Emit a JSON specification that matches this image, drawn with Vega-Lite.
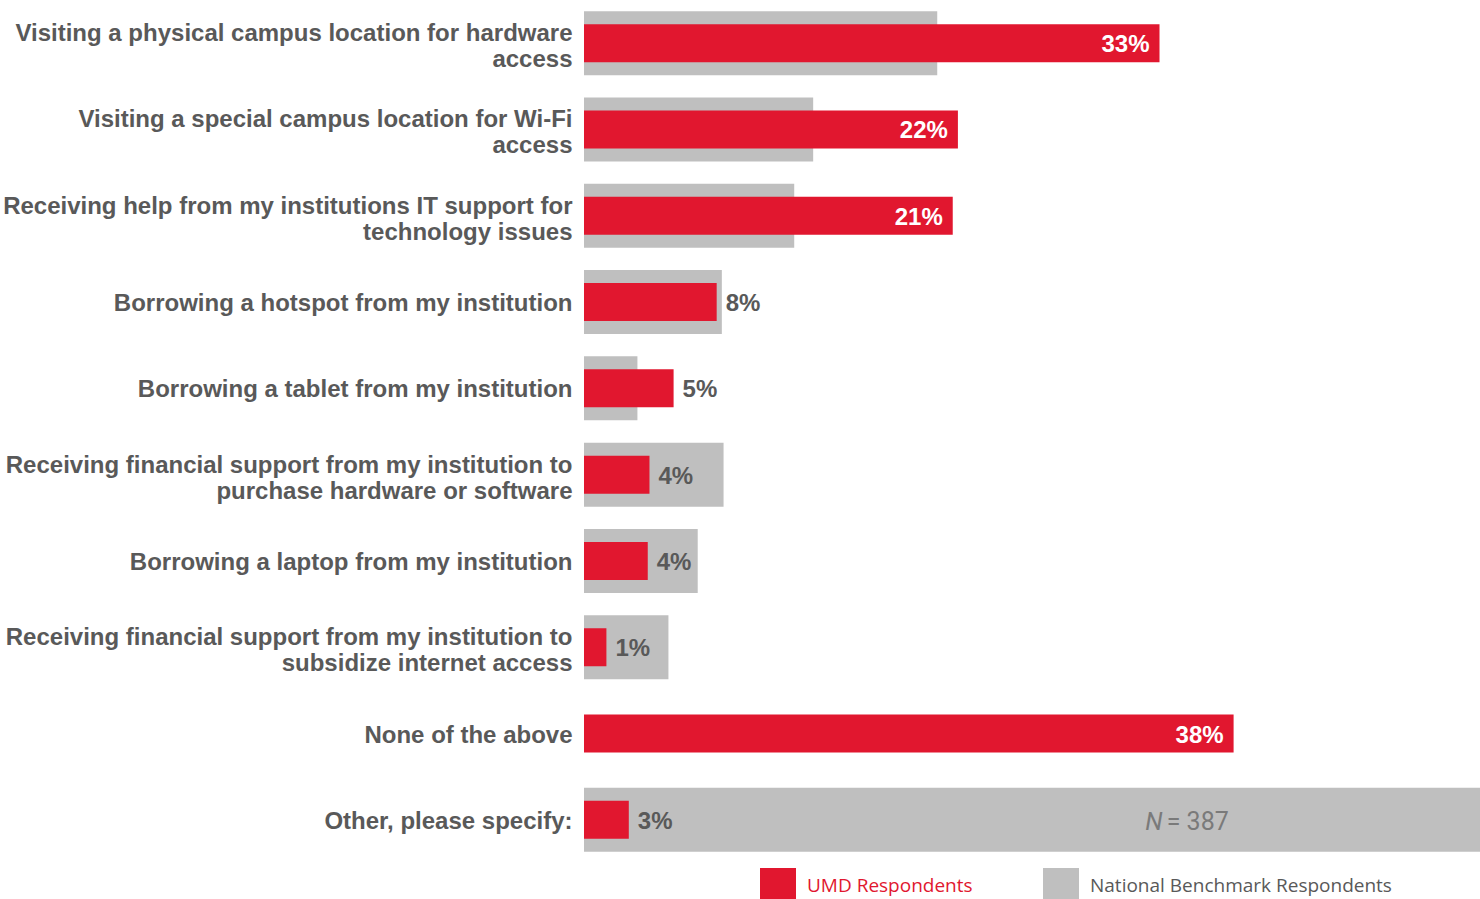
{
  "$schema": "https://vega.github.io/schema/vega-lite/v6.json",
  "width": 896,
  "height": 863,
  "autosize": {"type": "none"},
  "padding": {"left": 584, "top": 0, "right": 0, "bottom": 36},
  "background": "white",
  "config": {"view": {"stroke": null}, "font": "Liberation Sans"},
  "data": {
    "values": [
      {"item": "Visiting a physical campus location for hardware|access", "umd": 0.334, "nat": 0.205},
      {"item": "Visiting a special campus location for Wi-Fi|access", "umd": 0.217, "nat": 0.133},
      {"item": "Receiving help from my institutions IT support for|technology issues", "umd": 0.214, "nat": 0.122},
      {"item": "Borrowing a hotspot from my institution", "umd": 0.077, "nat": 0.080},
      {"item": "Borrowing a tablet from my institution", "umd": 0.052, "nat": 0.031},
      {"item": "Receiving financial support from my institution to|purchase hardware or software", "umd": 0.038, "nat": 0.081},
      {"item": "Borrowing a laptop from my institution", "umd": 0.037, "nat": 0.066},
      {"item": "Receiving financial support from my institution to|subsidize internet access", "umd": 0.013, "nat": 0.049},
      {"item": "None of the above", "umd": 0.377, "nat": null},
      {"item": "Other, please specify:", "umd": 0.026, "nat": 0.52, "note": "= 387"}
    ]
  },
  "encoding": {
    "y": {
      "field": "item",
      "type": "nominal",
      "sort": null,
      "scale": {
        "domain": [
          "Visiting a physical campus location for hardware|access",
          "Visiting a special campus location for Wi-Fi|access",
          "Receiving help from my institutions IT support for|technology issues",
          "Borrowing a hotspot from my institution",
          "Borrowing a tablet from my institution",
          "Receiving financial support from my institution to|purchase hardware or software",
          "Borrowing a laptop from my institution",
          "Receiving financial support from my institution to|subsidize internet access",
          "None of the above",
          "Other, please specify:"
        ],
        "paddingInner": 0,
        "paddingOuter": 0
      },
      "axis": {
        "title": null,
        "domain": false,
        "ticks": false,
        "labelExpr": "split(datum.label, '|')",
        "labelFont": "Liberation Sans",
        "labelFontSize": 24,
        "labelFontWeight": "bold",
        "labelColor": "#595959",
        "labelPadding": 12,
        "labelLimit": 700,
        "labelLineHeight": 26,
        "labelOffset": {"condition": {"test": "indexof(datum.value, '|') >= 0", "value": -9}, "value": 2}
      }
    }
  },
  "layer": [
    {
      "mark": {"type": "bar", "size": 64},
      "encoding": {
        "x": {"field": "nat", "type": "quantitative", "scale": {"domain": [0, 0.52], "nice": false}, "axis": null},
        "color": {
          "datum": "National Benchmark Respondents",
          "scale": {
            "domain": ["UMD Respondents", "National Benchmark Respondents"],
            "range": ["#e1172f", "#bfbfbf"]
          },
          "legend": {
            "title": null,
            "orient": "none",
            "legendX": 176,
            "legendY": 868,
            "direction": "horizontal",
            "symbolType": "square",
            "symbolSize": 1296,
            "symbolStrokeWidth": 0,
            "labelFont": "Open Sans",
            "labelFontSize": 19,
            "labelOffset": 11,
            "labelLimit": 500,
            "columnPadding": 70,
            "padding": 0,
            "encode": {
              "labels": {
                "update": {
                  "fill": {"signal": "datum.label === 'UMD Respondents' ? '#e1172f' : '#595959'"}
                }
              }
            }
          }
        }
      }
    },
    {
      "mark": {"type": "bar", "size": 38},
      "encoding": {
        "x": {"field": "umd", "type": "quantitative"},
        "color": {"datum": "UMD Respondents"}
      }
    },
    {
      "transform": [{"filter": "datum.umd >= 0.15"}],
      "mark": {"type": "text", "align": "right", "dx": -10, "dy": 2, "fontSize": 24, "fontWeight": "bold", "color": "white", "font": "Liberation Sans"},
      "encoding": {
        "x": {"field": "umd", "type": "quantitative"},
        "text": {"field": "umd", "type": "quantitative", "format": ".0%"}
      }
    },
    {
      "transform": [{"filter": "datum.umd < 0.15"}],
      "mark": {"type": "text", "align": "left", "dx": 9, "dy": 2, "fontSize": 24, "fontWeight": "bold", "color": "#595959", "font": "Liberation Sans"},
      "encoding": {
        "x": {"field": "umd", "type": "quantitative"},
        "text": {"field": "umd", "type": "quantitative", "format": ".0%"}
      }
    },
    {
      "transform": [{"filter": "datum.note != null"}],
      "mark": {"type": "text", "align": "right", "dx": -2, "dy": 2, "fontSize": 25, "fontStyle": "italic", "color": "#7a7a7a", "font": "Roboto"},
      "encoding": {
        "x": {"datum": 0.337},
        "text": {"value": "N"}
      }
    },
    {
      "transform": [{"filter": "datum.note != null"}],
      "mark": {"type": "text", "align": "left", "dx": 2, "dy": 2, "fontSize": 25, "color": "#7a7a7a", "font": "Roboto"},
      "encoding": {
        "x": {"datum": 0.337},
        "text": {"field": "note", "type": "nominal"}
      }
    }
  ]
}
